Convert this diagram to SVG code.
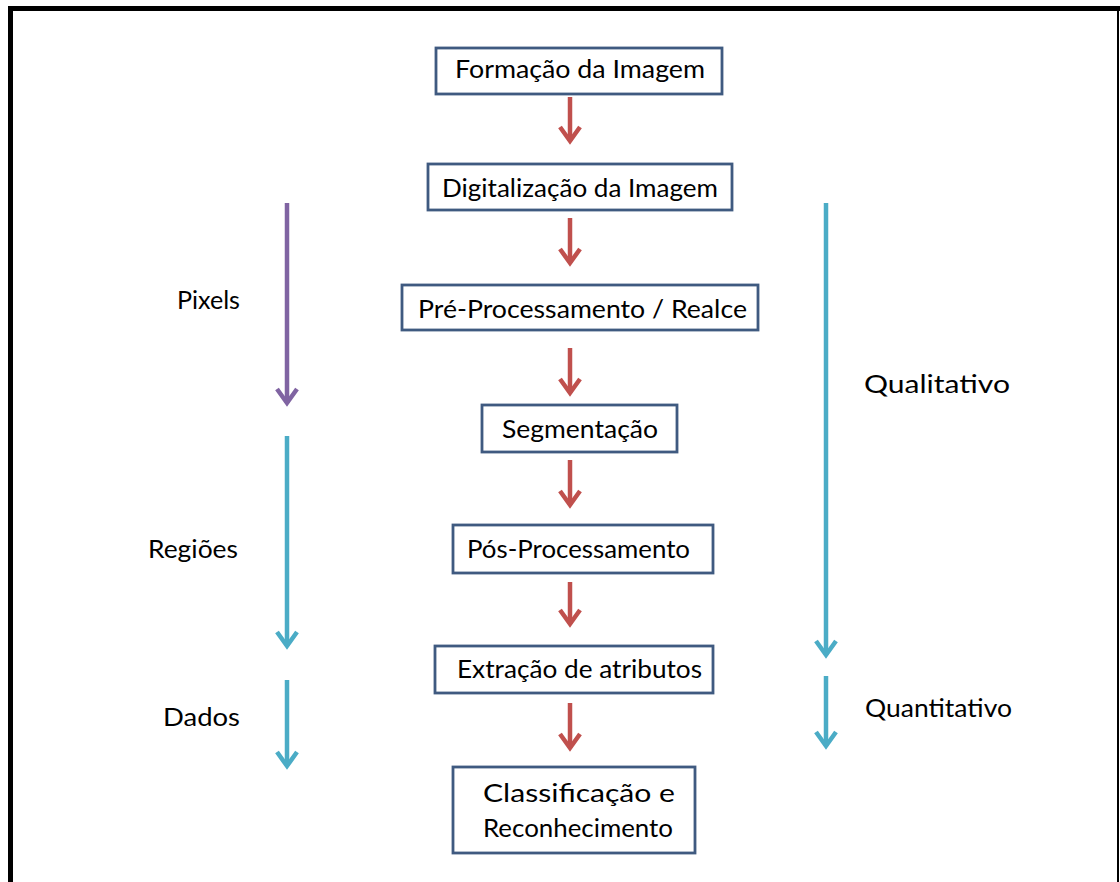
<svg xmlns="http://www.w3.org/2000/svg" width="1120" height="882" viewBox="0 0 1120 882">
<defs>
<style>
.box{fill:#fff;stroke:#3f5a80;stroke-width:2.8}
.t{font-family:Lato,"Open Sans","Liberation Sans",sans-serif;font-size:25px;fill:#000}
.red{stroke:#c0504d;stroke-width:4.5;fill:none}
.pur{stroke:#8064a2;stroke-width:4.5;fill:none}
.blu{stroke:#4bacc6;stroke-width:4.5;fill:none}
</style>
<marker id="mr" viewBox="-16 -13 20 26" markerWidth="20" markerHeight="26" refX="0" refY="0" orient="auto" markerUnits="userSpaceOnUse"><path d="M-14,-10 L0,0 L-14,10" fill="none" stroke="#c0504d" stroke-width="4.5"/></marker>
<marker id="mp" viewBox="-16 -13 20 26" markerWidth="20" markerHeight="26" refX="0" refY="0" orient="auto" markerUnits="userSpaceOnUse"><path d="M-14,-10 L0,0 L-14,10" fill="none" stroke="#8064a2" stroke-width="4.5"/></marker>
<marker id="mb" viewBox="-16 -13 20 26" markerWidth="20" markerHeight="26" refX="0" refY="0" orient="auto" markerUnits="userSpaceOnUse"><path d="M-14,-10 L0,0 L-14,10" fill="none" stroke="#4bacc6" stroke-width="4.5"/></marker>
</defs>
<rect width="1120" height="882" fill="#fff"/>
<g id="frame">
<path d="M10.5,882 L10.5,8.5 L1120,8.5" fill="none" stroke="#000" stroke-width="5"/>
<line x1="1118" y1="11" x2="1118" y2="882" stroke="#000" stroke-width="2"/>
</g>
<g id="connectors">
<line class="red" x1="570" y1="97" x2="570" y2="141" marker-end="url(#mr)"/>
<line class="red" x1="570" y1="218" x2="570" y2="263" marker-end="url(#mr)"/>
<line class="red" x1="570" y1="348" x2="570" y2="393" marker-end="url(#mr)"/>
<line class="red" x1="570" y1="460" x2="570" y2="505" marker-end="url(#mr)"/>
<line class="red" x1="570" y1="582" x2="570" y2="624" marker-end="url(#mr)"/>
<line class="red" x1="570" y1="703" x2="570" y2="748" marker-end="url(#mr)"/>
<line class="pur" x1="287" y1="203" x2="287" y2="403" marker-end="url(#mp)"/>
<line class="blu" x1="287" y1="436" x2="287" y2="646" marker-end="url(#mb)"/>
<line class="blu" x1="287" y1="680" x2="287" y2="766" marker-end="url(#mb)"/>
<line class="blu" x1="826" y1="203" x2="826" y2="655" marker-end="url(#mb)"/>
<line class="blu" x1="826" y1="676" x2="826" y2="746" marker-end="url(#mb)"/>
</g>
<g id="n1"><rect class="box" x="436" y="48" width="286" height="46"/><text class="t" x="455" y="78" textLength="250" lengthAdjust="spacingAndGlyphs">Formação da Imagem</text></g>
<g id="n2"><rect class="box" x="428" y="164" width="304" height="46"/><text class="t" x="442" y="197" textLength="276" lengthAdjust="spacingAndGlyphs">Digitalização da Imagem</text></g>
<g id="n3"><rect class="box" x="402" y="285" width="356" height="45"/><text class="t" x="418" y="318" textLength="329" lengthAdjust="spacingAndGlyphs">Pré-Processamento / Realce</text></g>
<g id="n4"><rect class="box" x="482" y="405" width="195" height="47"/><text class="t" x="502" y="438" textLength="156" lengthAdjust="spacingAndGlyphs">Segmentação</text></g>
<g id="n5"><rect class="box" x="453" y="525" width="260" height="48"/><text class="t" x="467" y="558" textLength="223" lengthAdjust="spacingAndGlyphs">Pós-Processamento</text></g>
<g id="n6"><rect class="box" x="435" y="646" width="278" height="47"/><text class="t" x="457" y="678" textLength="245" lengthAdjust="spacingAndGlyphs">Extração de atributos</text></g>
<g id="n7"><rect class="box" x="453" y="767" width="242" height="86"/><text class="t" x="483" y="802" textLength="192" lengthAdjust="spacingAndGlyphs">Classificação e</text><text class="t" x="483" y="837" textLength="190" lengthAdjust="spacingAndGlyphs">Reconhecimento</text></g>
<g id="labels">
<text class="t" x="177" y="309" textLength="63" lengthAdjust="spacingAndGlyphs">Pixels</text>
<text class="t" x="148" y="558" textLength="90" lengthAdjust="spacingAndGlyphs">Regiões</text>
<text class="t" x="163" y="726" textLength="77" lengthAdjust="spacingAndGlyphs">Dados</text>
<text class="t" x="864" y="393" textLength="146" lengthAdjust="spacingAndGlyphs">Qualitativo</text>
<text class="t" x="865" y="717" textLength="147" lengthAdjust="spacingAndGlyphs">Quantitativo</text>
</g>
</svg>
